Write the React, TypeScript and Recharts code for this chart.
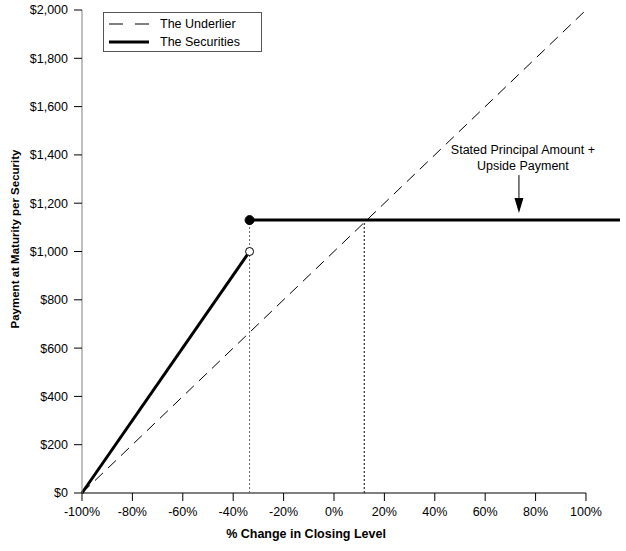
import React from 'react'
import { LineChart, Line, XAxis, YAxis, ReferenceLine, ReferenceDot } from 'recharts'

// values
const underlierX = [-100, 100]
const underlierY = [0, 2000]
const securitiesLowX = [-100, -33.5]
const securitiesLowY = [0, 1000]
const securitiesHighX = [-33.5, 113.5]
const securitiesHighY = [1130, 1130]
const threshold = -33.5
const breakEven = 12
const capValue = 1130
const arrowAt = 73.4
const xTicks = [-100, -80, -60, -40, -20, 0, 20, 40, 60, 80, 100]
const yTicks = [0, 200, 400, 600, 800, 1000, 1200, 1400, 1600, 1800, 2000]
const annotation = ['Stated Principal Amount +', 'Upside Payment']

const FONT = '"Liberation Sans", Arial, sans-serif'

const toPoints = (xs: number[], ys: number[]) => xs.map((x, i) => ({ x, y: ys[i] }))
const underlier = toPoints(underlierX, underlierY)
const securitiesLow = toPoints(securitiesLowX, securitiesLowY)
const securitiesHigh = toPoints(securitiesHighX, securitiesHighY)

const fmtDollar = (v: number) => '$' + v.toLocaleString('en-US')

function Annotation({ cx, cy }: { cx?: number; cy?: number }) {
  if (cx == null || cy == null) return <g />
  return (
    <g>
      <text x={cx + 4} y={cy - 66} textAnchor="middle" fontSize={12.5} fontFamily={FONT} fill="#000">
        {annotation[0]}
      </text>
      <text x={cx + 4} y={cy - 50} textAnchor="middle" fontSize={12.5} fontFamily={FONT} fill="#000">
        {annotation[1]}
      </text>
      <line x1={cx} x2={cx} y1={cy - 45} y2={cy - 20} stroke="#000" strokeWidth={1} />
      <path d={`M${cx - 4.5},${cy - 22} L${cx + 4.5},${cy - 22} L${cx},${cy - 7} Z`} fill="#000" />
    </g>
  )
}

function Legend() {
  return (
    <div
      style={{
        position: 'absolute', left: 103, top: 12, width: 157, height: 38,
        border: '1px solid #555', background: '#fff', fontFamily: FONT, fontSize: 12.5,
      }}
    >
      <svg width={157} height={38} style={{ position: 'absolute', left: 0, top: 0 }}>
        <line x1={5} x2={45} y1={11} y2={11} stroke="#000" strokeWidth={1} strokeDasharray="14 12" />
        <line x1={5} x2={45} y1={29} y2={29} stroke="#000" strokeWidth={3} />
        <text x={56} y={15} fontSize={12.5} fontFamily={FONT} fill="#000">The Underlier</text>
        <text x={56} y={33} fontSize={12.5} fontFamily={FONT} fill="#000">The Securities</text>
      </svg>
    </div>
  )
}

export default function App() {
  return (
    <div style={{ position: 'absolute', left: 0, top: 0, width: 626, height: 551, background: '#fff' }}>
      <LineChart width={626} height={551} margin={{ top: 10, right: 6, left: 0, bottom: 28 }}>
        <XAxis
          type="number"
          dataKey="x"
          domain={[-100, 113.5]}
          ticks={xTicks}
          tickFormatter={(v) => `${v}%`}
          axisLine={false}
          tickLine={{ stroke: '#000' }}
          tickSize={8}
          tickMargin={6}
          height={30}
          interval={0}
          tick={{ fontSize: 12.5, fill: '#000', fontFamily: FONT }}
          label={{
            content: () => (
              <text x={306} y={538} textAnchor="middle" fontSize={12.5} fontWeight="bold" fontFamily={FONT} fill="#000">
                % Change in Closing Level
              </text>
            ),
          }}
        />
        <YAxis
          type="number"
          domain={[0, 2000]}
          ticks={yTicks}
          tickFormatter={fmtDollar}
          width={82}
          axisLine={{ stroke: '#808080' }}
          tickLine={{ stroke: '#000' }}
          tickSize={8}
          tickMargin={6}
          interval={0}
          tick={{ fontSize: 12.5, fill: '#000', fontFamily: FONT }}
          label={{
            content: () => (
              <text
                x={0}
                y={0}
                transform="translate(19,239) rotate(-90)"
                textAnchor="middle"
                fontSize={11.5}
                fontWeight="bold"
                fontFamily={FONT}
                fill="#000"
              >
                Payment at Maturity per Security
              </text>
            ),
          }}
        />
        <ReferenceLine segment={[{ x: -100, y: 0 }, { x: 100, y: 0 }]} stroke="#000" strokeWidth={1} />
        <ReferenceLine
          segment={[{ x: threshold, y: 0 }, { x: threshold, y: capValue }]}
          stroke="#666"
          strokeDasharray="2 2"
        />
        <ReferenceLine
          segment={[{ x: breakEven, y: 0 }, { x: breakEven, y: capValue }]}
          stroke="#000"
          strokeDasharray="2 2"
        />
        <Line
          data={underlier}
          dataKey="y"
          stroke="#000"
          strokeWidth={1}
          strokeDasharray="11 7"
          dot={false}
          isAnimationActive={false}
        />
        <Line data={securitiesLow} dataKey="y" stroke="#000" strokeWidth={3} dot={false} isAnimationActive={false} />
        <Line data={securitiesHigh} dataKey="y" stroke="#000" strokeWidth={3} dot={false} isAnimationActive={false} />
        <ReferenceDot x={threshold} y={securitiesLowY[1]} r={4} fill="#fff" stroke="#000" strokeWidth={1} />
        <ReferenceDot x={threshold} y={capValue} r={4.5} fill="#000" stroke="#000" />
        <ReferenceDot x={arrowAt} y={capValue} r={0} shape={(p: any) => <Annotation cx={p.cx} cy={p.cy} />} />
      </LineChart>
      <Legend />
    </div>
  )
}
